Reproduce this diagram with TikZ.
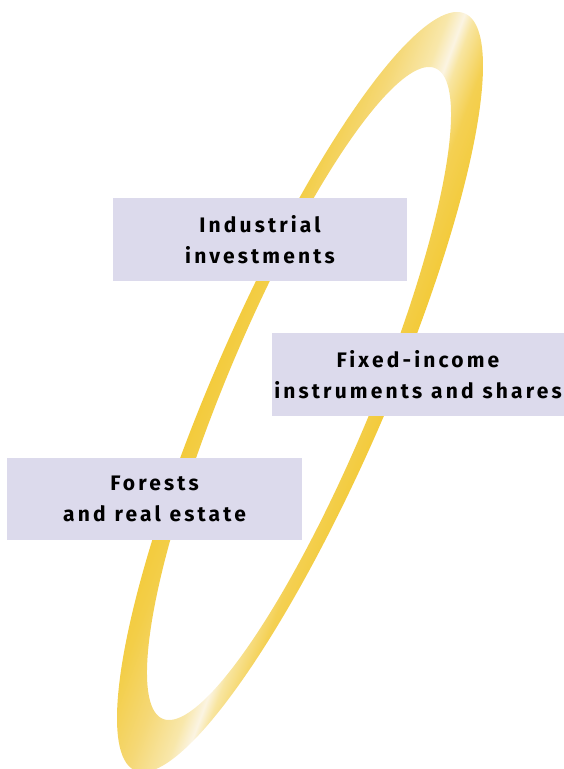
\documentclass[tikz,border=0pt]{standalone}
\usepackage{fontspec}
\usepackage{xcolor}
\newfontfamily\labelfont{Fira Sans}[LetterSpace=15, WordSpace=1.1]
\definecolor{ringgold}{RGB}{242,200,48}
\definecolor{ringmid}{RGB}{243,206,72}
\definecolor{ringpale}{RGB}{245,216,118}
\definecolor{ringlight}{RGB}{248,231,170}
\definecolor{ringcream}{RGB}{251,244,226}
\definecolor{ringwarm}{RGB}{248,229,160}
\definecolor{ringdeep}{RGB}{244,208,82}
\definecolor{boxlav}{RGB}{220,218,236}
% sheen across the ring, bright streak in the middle
\pgfdeclarehorizontalshading{ringshine}{100bp}{
  color(0bp)=(ringgold); color(33.75bp)=(ringgold); color(38.75bp)=(ringmid);
  color(43.75bp)=(ringpale); color(48.1bp)=(ringlight); color(50bp)=(ringcream);
  color(51.25bp)=(ringwarm); color(54.4bp)=(ringdeep); color(60bp)=(ringgold);
  color(100bp)=(ringgold)}

\begin{document}
\begin{tikzpicture}[x=1pt, y=1pt,
  lavbox/.style={fill=boxlav, minimum width=294pt, minimum height=83pt, inner sep=0pt,
                 align=center, text=black, font={\labelfont\bfseries\fontsize{21pt}{31pt}\selectfont}}]
  \useasboundingbox (0,0) rectangle (564,769);
  % ring: outer and inner ellipse, cut out with even odd
  \begin{scope}[even odd rule]
    \clip
      plot[domain=0:360, samples=361, variable=\t] ({300+94*cos(\t)+157*sin(\t)}, {377+380*sin(\t)}) -- cycle
      plot[domain=0:360, samples=361, variable=\t] ({299+78.8*cos(\t)+130*sin(\t)}, {375.5+326.5*sin(\t)}) -- cycle;
    \begin{scope}[transform canvas={shift={(455,729)}, rotate=-20.6}]
      \shade[shading=ringshine] (-200,-850) rectangle (200,150);
    \end{scope}
  \end{scope}
  % labels
  \node[lavbox] (industrial)  at (260,529.5) {Industrial\\investments};
  \node[lavbox, minimum width=292pt] (fixedincome) at (418,394.5) {Fixed-income\\instruments and shares};
  \node[lavbox, minimum width=295pt, minimum height=82pt] (forests) at (154.5,270) {Forests\\and real estate};
\end{tikzpicture}
\end{document}
